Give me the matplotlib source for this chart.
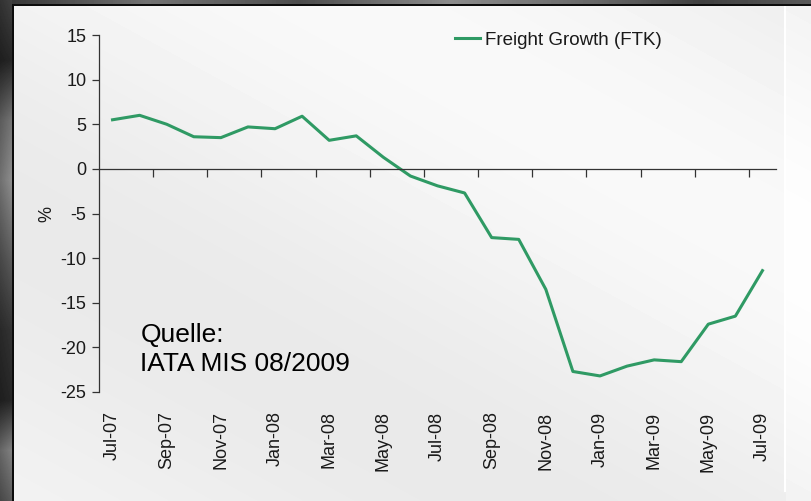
import numpy as np
import matplotlib.pyplot as plt

plt.rcParams['font.family'] = ['Liberation Sans', 'DejaVu Sans']
plt.rcParams['axes.unicode_minus'] = False

# monthly freight growth (FTK), Jul-07 .. Jul-09, in %
months = ['Jul-07', 'Aug-07', 'Sep-07', 'Oct-07', 'Nov-07', 'Dec-07',
          'Jan-08', 'Feb-08', 'Mar-08', 'Apr-08', 'May-08', 'Jun-08',
          'Jul-08', 'Aug-08', 'Sep-08', 'Oct-08', 'Nov-08', 'Dec-08',
          'Jan-09', 'Feb-09', 'Mar-09', 'Apr-09', 'May-09', 'Jun-09',
          'Jul-09']
ftk = [5.5, 6.0, 5.0, 3.6, 3.5, 4.7, 4.5, 5.9, 3.2, 3.7, 1.3, -0.8,
       -1.9, -2.7, -7.7, -7.9, -13.5, -22.7, -23.2, -22.1, -21.4, -21.6,
       -17.4, -16.5, -11.4]
ytick_vals = [-25, -20, -15, -10, -5, 0, 5, 10, 15]

W, H = 811, 501
fig = plt.figure(figsize=(W / 100, H / 100), dpi=100)

# --- background (slide style frame with light gradient panel) ---
yy, xx = np.mgrid[0:H, 0:W]
diag = (xx * 0.55 - yy) / 120.0
bgimg = 0.935 + 0.025 * np.sin(diag) + 0.015 * np.sin(diag * 0.37 + 1.0)
bgimg = np.clip(bgimg, 0, 1)
left_prof = np.interp(np.arange(H), [0, 60, 120, 180, 260, 330, 400, 450, 501],
                      [0.25, 0.15, 0.45, 0.55, 0.35, 0.2, 0.15, 0.5, 0.35])
bgimg[:, :12] = left_prof[:, None] * (0.8 + 0.2 * np.linspace(0, 1, 12))[None, :]
top_prof = np.interp(np.arange(W), [0, 150, 300, 450, 600, 700, 811],
                     [0.2, 0.45, 0.3, 0.55, 0.4, 0.25, 0.35])
bgimg[:4, 12:] = top_prof[None, 12:]
bgimg[4:6, 12:] = 0.05
bgimg[4:, 12:14] = 0.05
bgimg[6:492, 784:786] = 1.0
bgimg[6:, 786:] = np.clip(bgimg[6:, 786:] + 0.02, 0, 1)
bg = fig.add_axes([0, 0, 1, 1])
bg.imshow(bgimg, cmap='gray', vmin=0, vmax=1, aspect='auto',
          interpolation='bilinear')
bg.axis('off')

# --- main chart ---
ax = fig.add_axes([99 / W, 1 - 392 / H, (776 - 99) / W, (392 - 35) / H])
ax.patch.set_alpha(0)

x = np.arange(len(months))
ax.plot(x, ftk, color='#2f9a64', lw=2.2, label='Freight Growth (FTK)')

ax.set_xlim(-0.5, len(months) - 0.5)
ax.set_ylim(-25, 15)
ax.set_yticks(ytick_vals)
ax.tick_params(axis='y', direction='out', length=5, width=0.9,
               color='#333333', labelsize=13, labelcolor='#1a1a1a', pad=4)
ax.set_ylabel('%', fontsize=13, color='#1a1a1a', labelpad=4)

for s in ['top', 'right']:
    ax.spines[s].set_visible(False)
ax.spines['left'].set_color('#333333')
ax.spines['left'].set_linewidth(0.9)
ax.spines['bottom'].set_position(('data', 0))
ax.spines['bottom'].set_color('#333333')
ax.spines['bottom'].set_linewidth(0.9)

# category boundary ticks on the zero line, every second month
ax.set_xticks(np.arange(1.5, len(months) - 1, 2))
ax.tick_params(axis='x', direction='out', length=6, width=0.9,
               color='#333333', labelbottom=False)

# month labels below the plot
sec = ax.secondary_xaxis(0)
sec.set_xticks(x[::2], months[::2], rotation=90)
sec.tick_params(length=0, pad=14, labelsize=13, labelcolor='#1a1a1a')
sec.spines['bottom'].set_visible(False)

ax.legend(loc='center left', bbox_to_anchor=(0.515, 0.986), frameon=False,
          fontsize=13.5, handlelength=1.3, handletextpad=0.3,
          borderaxespad=0, labelcolor='#1a1a1a')

ax.text(0.061, 0.118, 'Quelle:\nIATA MIS 08/2009', transform=ax.transAxes,
        fontsize=19, color='black', ha='left', va='center', linespacing=1.25)

fig.savefig('out.png', dpi=100)
